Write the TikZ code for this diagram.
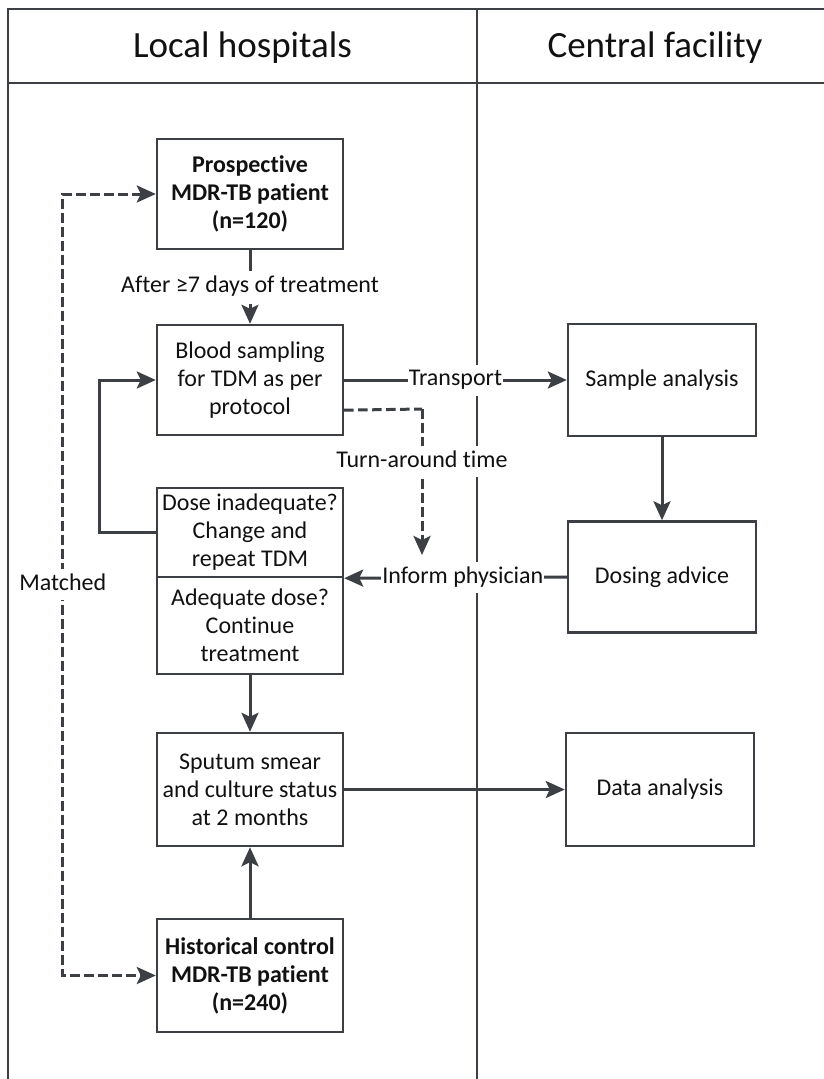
\documentclass[tikz,border=0pt]{standalone}
\usepackage{fontspec}
\setmainfont{Carlito}[Ligatures={NoCommon}]
\usetikzlibrary{arrows.meta,calc}
\definecolor{ln}{HTML}{3C3F43}
\definecolor{tx}{HTML}{111111}
\begin{document}
\begin{tikzpicture}[x=1pt,y=-1pt,
  >={Stealth[length=19pt,width=17pt,inset=4pt]},
  box/.style={draw=ln, line width=2.4pt, minimum width=186pt, align=center, text=tx,
    font=\fontsize{24}{28}\selectfont, inner sep=0pt},
  bbox/.style={box, font=\fontsize{24}{28}\selectfont\bfseries},
  conn/.style={draw=ln, line width=3pt, ->},
  dconn/.style={draw=ln, line width=3pt, dash pattern=on 9.5pt off 4.5pt},
  lbl/.style={fill=white, text=tx, font=\fontsize{24}{28}\selectfont, inner xsep=1pt,
    inner ysep=5pt, text height=16pt, text depth=5pt},
  frame/.style={draw=ln, line width=2.2pt},
  head/.style={text=tx, font=\fontsize{37}{44}\selectfont, anchor=base}
]
\useasboundingbox (0,0) rectangle (824,1079);
% frame
\draw[frame] (8,1079) -- (8,9) -- (824,9);
\draw[frame] (8,83) -- (824,83);
\draw[frame] (477,9) -- (477,1079);
\node[head] (h1) at (242.5,57) {Local hospitals};
\node[head] (h2) at (655,57) {Central facility};
% boxes
\node[bbox, minimum height=110pt] (pros) at (250,194) {Prospective\\MDR-TB patient\\(n=120)};
\node[box, minimum height=110pt] (blood) at (250,380) {Blood sampling\\for TDM as per\\protocol};
\node[box, minimum height=89pt] (doseA) at (250,532.5) {Dose inadequate?\\Change and\\repeat TDM};
\node[box, minimum height=97pt] (doseB) at (250,625.5) {Adequate dose?\\Continue\\treatment};
\node[box, minimum height=113pt] (sput) at (250,789.5) {Sputum smear\\and culture status\\at 2 months};
\node[bbox, minimum height=113pt] (hist) at (250,975.5) {Historical control\\MDR-TB patient\\(n=240)};
\node[box, minimum width=188pt, minimum height=112pt] (samp) at (662,380) {Sample analysis};
\node[box, minimum width=188pt, minimum height=111pt] (dosing) at (662,577) {Dosing advice};
\node[box, minimum width=188pt, minimum height=113pt] (data) at (660,789.5) {Data analysis};
% connectors
\draw[conn] (pros) -- node[lbl, inner ysep=6pt] {After ≥7 days of treatment} (blood);
\draw[conn] (blood.east) -- node[lbl] {Transport} (samp.west);
\draw[conn] (samp) -- (dosing);
\coordinate (tastart) at ($(blood.south east)+(0,-26)$);
\coordinate (tacorner) at (422,409);
\coordinate (taend) at (422,555);
\draw[dconn] (tastart) -- (tacorner);
\draw[dconn, ->] (tacorner) -- node[lbl, pos=0.36] {Turn-around time} (taend);
\draw[conn] (dosing.west) -- node[lbl, pos=0.467] {Inform physician} (doseA.south east);
\draw[conn] (doseA.west) -- ++(-56,0) |- (blood.west);
\draw[conn] (doseB) -- (sput);
\draw[conn] (hist) -- (sput);
\draw[conn] (sput) -- (data);
\draw[dconn, <->] (pros.west) -- ++(-93,0) |- node[lbl, pos=0.25] {Matched} (hist.west);
\end{tikzpicture}
\end{document}
